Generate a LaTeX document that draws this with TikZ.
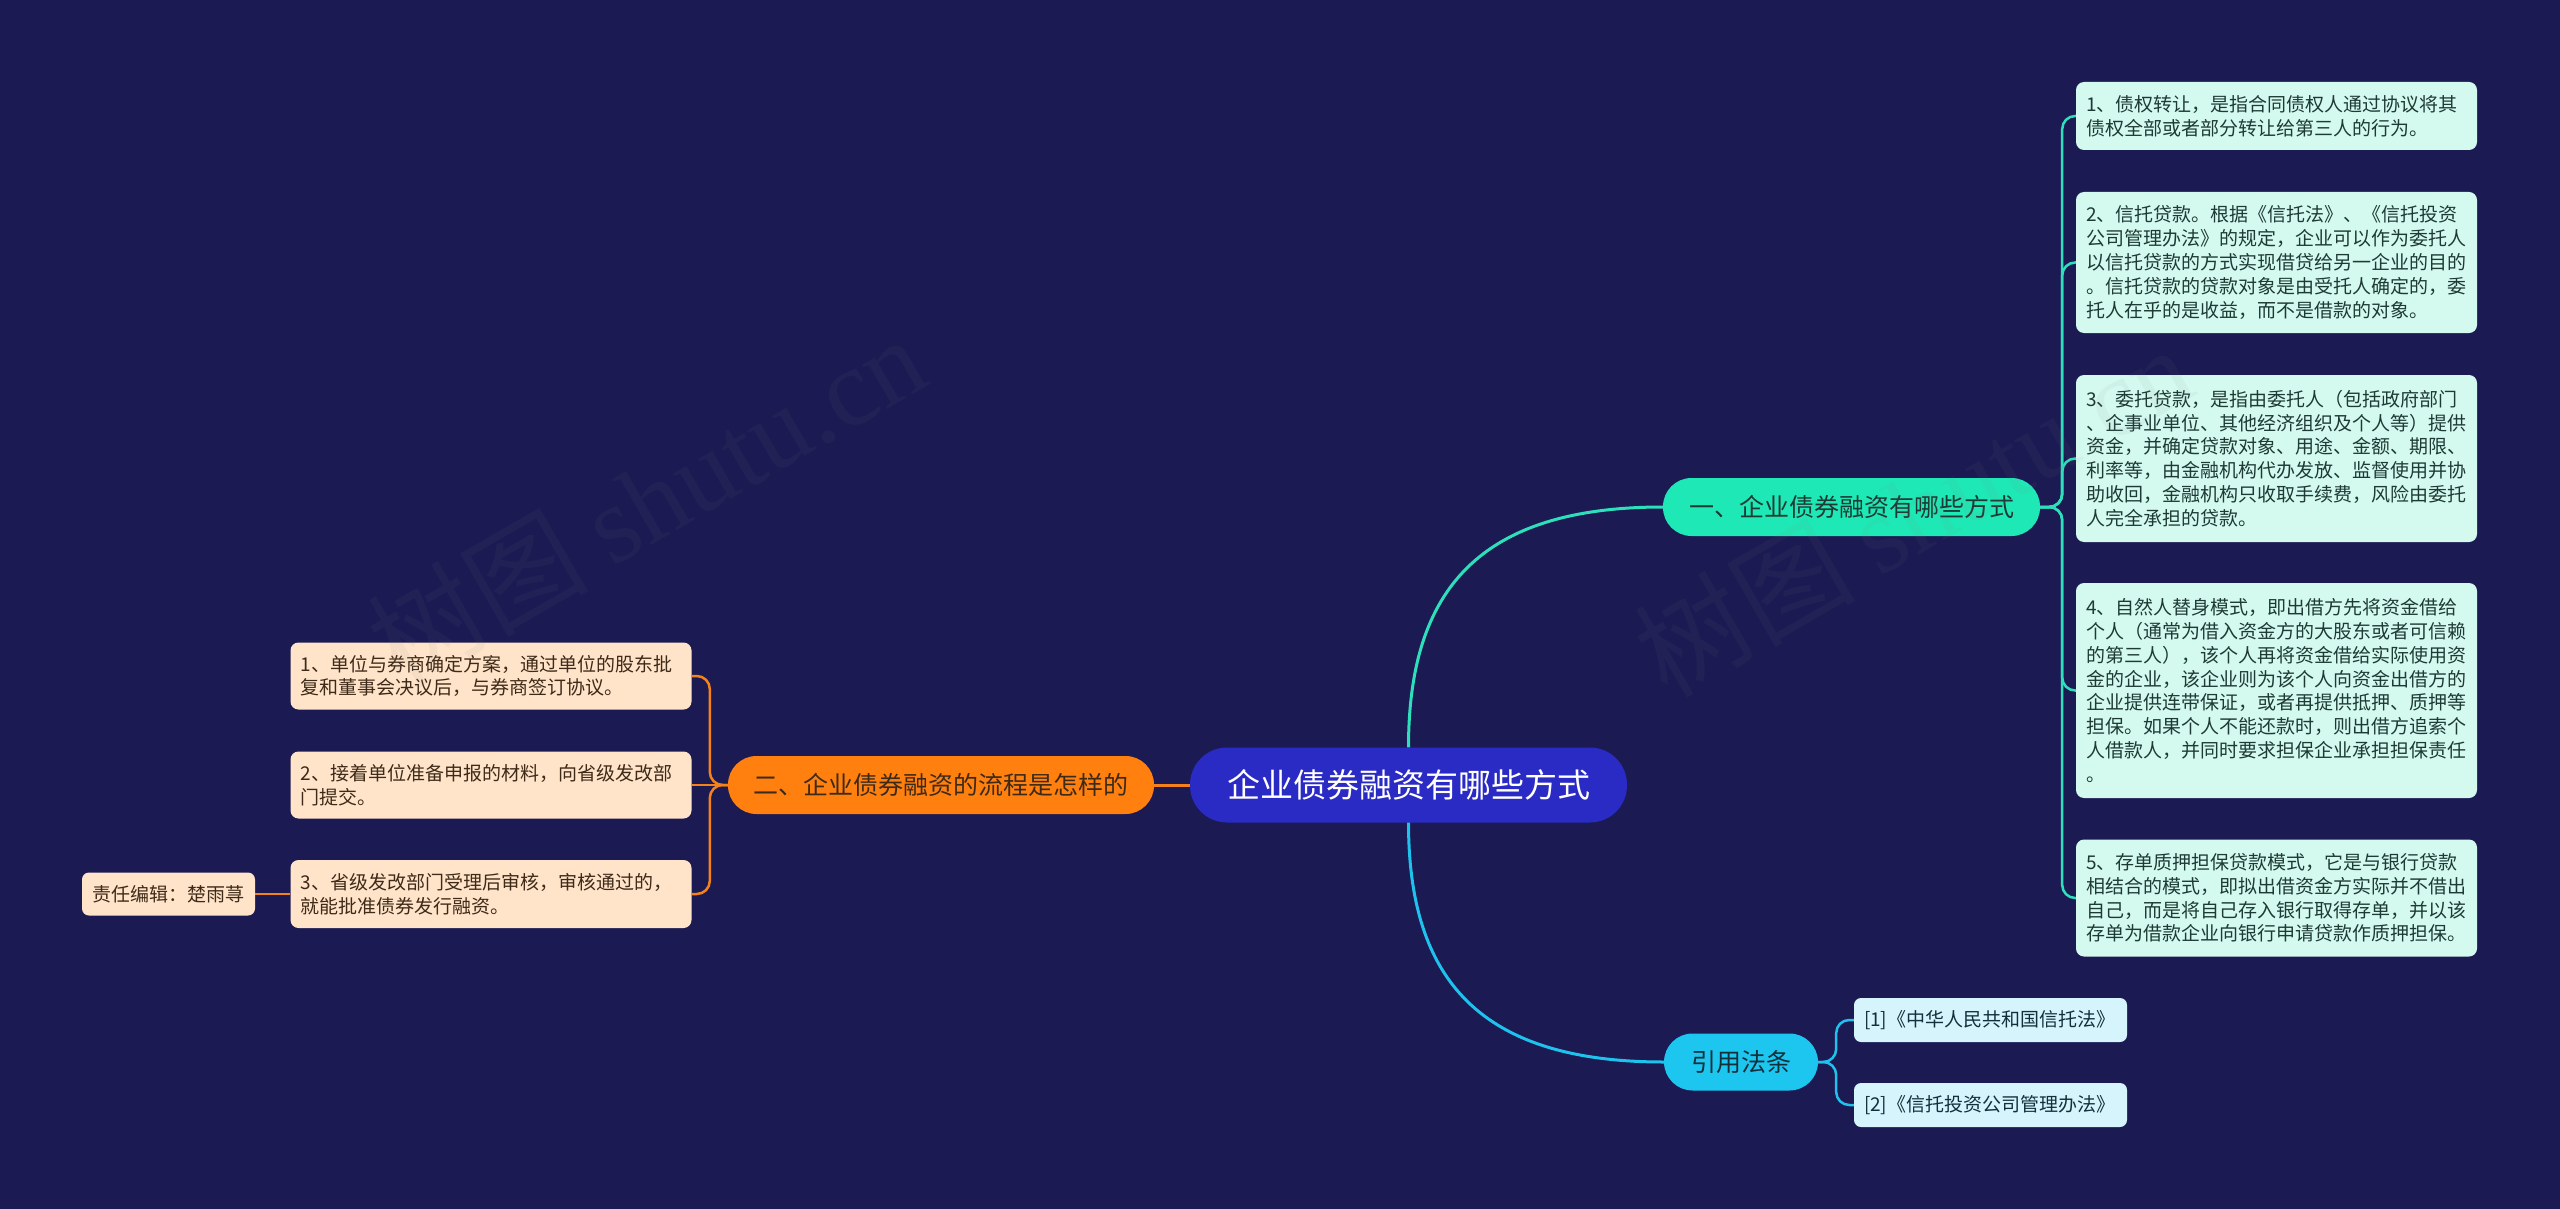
\documentclass[tikz,border=0pt]{standalone}
\usepackage{fontspec}
\setmainfont{Noto Sans CJK SC}
\newfontfamily\cjk{Noto Sans CJK SC}
\newfontfamily\wmfont{Liberation Serif}
\definecolor{bgc}{HTML}{1B1A53}
\definecolor{rootc}{HTML}{2A2AC4}
\definecolor{bonec}{HTML}{1EE9B6}
\definecolor{btwoc}{HTML}{FF800F}
\definecolor{bthreec}{HTML}{1DC6EF}
\definecolor{rleafc}{HTML}{D4FAF0}
\definecolor{lleafc}{HTML}{FFE4CA}
\definecolor{fleafc}{HTML}{D6F4FB}
\definecolor{tealc}{HTML}{2DDFBB}
\definecolor{cyanc}{HTML}{1FC2EC}
\definecolor{orangec}{HTML}{F5811A}
\definecolor{rtext}{HTML}{1E3A34}
\definecolor{ltext}{HTML}{3E2A18}
\definecolor{ftext}{HTML}{12303C}
\tikzset{
  rootnode/.style={fill=rootc, rounded corners=37pt, minimum width=437pt, minimum height=75pt, inner sep=0pt, text=white, font=\fontsize{33}{38}\selectfont},
  branchnode/.style={rounded corners=28.5pt, minimum height=58pt, inner sep=0pt, font=\fontsize{25}{28}\selectfont},
  leafnode/.style={rounded corners=8pt, text width=381pt, align=left, inner xsep=10pt, inner ysep=0pt, font=\fontsize{19}{23.8}\selectfont},
  rleaf/.style={leafnode, fill=rleafc, text=rtext},
  lleaf/.style={leafnode, fill=lleafc, text=ltext},
  fleaf/.style={rounded corners=7pt, fill=fleafc, text=ftext, text width=253pt, align=left, inner xsep=10pt, inner ysep=0pt, minimum height=44pt, font=\fontsize{19}{23}\selectfont},
  edleaf/.style={rounded corners=7pt, fill=lleafc, text=ltext, minimum width=173pt, minimum height=43pt, inner sep=0pt, font=\fontsize{19}{23}\selectfont},
  mainline/.style={line width=3pt},
  subline/.style={line width=2.5pt, rounded corners=13pt},
  wm/.style={text=gray, opacity=0.075, font=\fontsize{110}{120}\selectfont, inner sep=0pt}
}
\begin{document}
\begin{tikzpicture}[x=1pt,y=-1pt]
\useasboundingbox (0,0) rectangle (2560,1209);
\fill[bgc] (0,0) rectangle (2560,1209);

% nodes
\node[rootnode] (root) at (1408.5,785) {企业债券融资有哪些方式};
\node[branchnode, fill=bonec, text=rtext, minimum width=377pt] (b1) at (1851.5,507) {一、企业债券融资有哪些方式};
\node[branchnode, fill=btwoc, text=ltext, minimum width=426pt] (b2) at (941,785) {二、企业债券融资的流程是怎样的};
\node[branchnode, fill=bthreec, text=ftext, minimum width=154pt, minimum height=57pt] (b3) at (1741,1062) {引用法条};

\node[rleaf, minimum height=68pt] (r1) at (2276.5,116) {1、债权转让，是指合同债权人通过协议将其\\债权全部或者部分转让给第三人的行为。};
\node[rleaf, minimum height=141pt] (r2) at (2276.5,262.5) {2、信托贷款。根据《信托法》、《信托投资\\公司管理办法》的规定，企业可以作为委托人\\以信托贷款的方式实现借贷给另一企业的目的\\。信托贷款的贷款对象是由受托人确定的，委\\托人在乎的是收益，而不是借款的对象。};
\node[rleaf, minimum height=167pt] (r3) at (2276.5,458.5) {3、委托贷款，是指由委托人（包括政府部门\\、企事业单位、其他经济组织及个人等）提供\\资金，并确定贷款对象、用途、金额、期限、\\利率等，由金融机构代办发放、监督使用并协\\助收回，金融机构只收取手续费，风险由委托\\人完全承担的贷款。};
\node[rleaf, minimum height=215pt] (r4) at (2276.5,690.5) {4、自然人替身模式，即出借方先将资金借给\\个人（通常为借入资金方的大股东或者可信赖\\的第三人），该个人再将资金借给实际使用资\\金的企业，该企业则为该个人向资金出借方的\\企业提供连带保证，或者再提供抵押、质押等\\担保。如果个人不能还款时，则出借方追索个\\人借款人，并同时要求担保企业承担担保责任\\。};
\node[rleaf, minimum height=117pt] (r5) at (2276.5,898) {5、存单质押担保贷款模式，它是与银行贷款\\相结合的模式，即拟出借资金方实际并不借出\\自己，而是将自己存入银行取得存单，并以该\\存单为借款企业向银行申请贷款作质押担保。};

\node[lleaf, minimum height=67pt] (l1) at (491,676) {1、单位与券商确定方案，通过单位的股东批\\复和董事会决议后，与券商签订协议。};
\node[lleaf, minimum height=67pt] (l2) at (491,785) {2、接着单位准备申报的材料，向省级发改部\\门提交。};
\node[lleaf, minimum height=68pt] (l3) at (491,894) {3、省级发改部门受理后审核，审核通过的，\\就能批准债券发行融资。};
\node[edleaf] (ed) at (168.5,894) {责任编辑：楚雨荨};

\node[fleaf] (f1) at (1990.5,1020) {[1]《中华人民共和国信托法》};
\node[fleaf] (f2) at (1990.5,1105) {[2]《信托投资公司管理办法》};

% connectors
\draw[mainline, tealc] (root.north) .. controls +(0,-158) and +(-183,0) .. (b1.west);
\draw[mainline, cyanc] (root.south) .. controls +(0,158) and +(-183,0) .. (b3.west);
\draw[mainline, orangec] (root.west) -- (b2.east);

\foreach \n in {r1,r2,r3,r4,r5}
  \draw[subline, tealc] (b1.east) -- ++(22,0) |- (\n.west);
\foreach \n in {l1,l3}
  \draw[subline, orangec] (b2.west) -- ++(-18,0) |- (\n.east);
\draw[line width=2.5pt, orangec] (b2.west) -- (l2.east);
\draw[line width=2.5pt, orangec] (l3.west) -- (ed.east);
\foreach \n in {f1,f2}
  \draw[subline, cyanc] (b3.east) -- ++(18,0) |- (\n.west);

% watermark
\node[wm, rotate=30] (wm1) at (646,500) {{\cjk 树图} {\wmfont shutu.cn}};
\node[wm, rotate=30] (wm2) at (1913,510) {{\cjk 树图} {\wmfont shutu.cn}};
\end{tikzpicture}
\end{document}
